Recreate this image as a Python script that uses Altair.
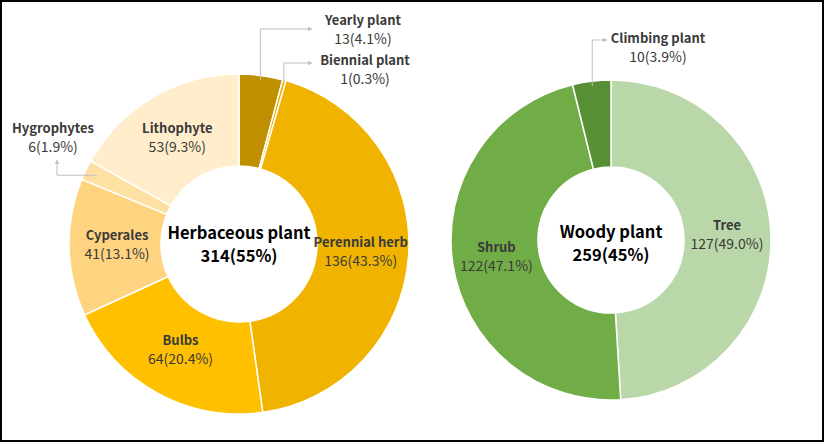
import math
import altair as alt
import pandas as pd

# ---------------- data ----------------
herb_names = ["Yearly plant", "Biennial plant", "Perennial herb", "Bulbs",
              "Cyperales", "Hygrophytes", "Lithophyte"]
herb_values = [13, 1, 136, 64, 41, 6, 53]
herb_pcts = ["4.1%", "0.3%", "43.3%", "20.4%", "13.1%", "1.9%", "9.3%"]
herb_outside = ["Yearly plant", "Biennial plant", "Hygrophytes"]
herb_center = ["Herbaceous plant", "314(55%)"]

woody_names = ["Tree", "Shrub", "Climbing plant"]
woody_values = [127, 122, 10]
woody_pcts = ["49.0%", "47.1%", "3.9%"]
woody_outside = ["Climbing plant"]
woody_center = ["Woody plant", "259(45%)"]

# ---------------- styles / layout ----------------
herb_colors = ["#BF8F00", "#E9AD00", "#F0B400", "#FFC000", "#FFD480", "#FFE0A3", "#FFEDCC"]
woody_colors = ["#B9D7A8", "#70AD47", "#578F35"]

W, H = 827, 446
FONT = "Noto Sans CJK KR"
TXT = "#3A3A3A"
LINE = "#BFBFBF"

LEFT = dict(cx=239, cy=244, r_out=170, r_in=78, r_lab=122)
RIGHT = dict(cx=611, cy=240, r_out=160, r_in=73, r_lab=116)

# outside callouts: leader start radius, route, label position
CALLOUTS = {
    "Yearly plant":   dict(side=LEFT, r=165, route="up", level=29, end=312, lx=363, ly=21),
    "Biennial plant": dict(side=LEFT, r=168, route="up", level=63, end=312, lx=365, ly=61),
    "Hygrophytes":    dict(side=LEFT, r=158, route="left", level=57, end=160, lx=53, ly=129),
    "Climbing plant": dict(side=RIGHT, r=155, route="up", level=40, end=607, lx=658, ly=39),
}


def build(names, values, pcts, outside):
    total = sum(values)
    rows = []
    cum = 0
    for i, (n, v, p) in enumerate(zip(names, values, pcts)):
        mid = (cum + v / 2) / total * 2 * math.pi
        cum += v
        rows.append(dict(idx=i, name=n, value=v, vtxt=f"{v}({p})",
                         name_in="" if n in outside else n,
                         val_in="" if n in outside else f"{v}({p})",
                         mid=mid))
    return pd.DataFrame(rows)


herb_df = build(herb_names, herb_values, herb_pcts, herb_outside)
woody_df = build(woody_names, woody_values, woody_pcts, woody_outside)

xs = alt.Scale(domain=[0, W], nice=False, zero=False)
ys = alt.Scale(domain=[0, H], nice=False, zero=False, reverse=True)


def donut(df, names, colors, side):
    base = alt.Chart(df)
    theta = alt.Theta("value:Q", stack=True)
    order = alt.Order("idx:Q")
    arc = base.mark_arc(radius=side["r_out"], radius2=side["r_in"],
                        stroke="white", strokeWidth=1.5).encode(
        theta=theta, order=order,
        color=alt.Color("name:N", scale=alt.Scale(domain=names, range=colors), legend=None),
        x=alt.value(side["cx"]), y=alt.value(side["cy"]),
    )
    t1 = base.mark_text(radius=side["r_lab"], dy=-10, font=FONT, fontSize=13,
                        fontWeight="bold", color=TXT).encode(
        theta=theta, order=order, text="name_in:N",
        x=alt.value(side["cx"]), y=alt.value(side["cy"]))
    t2 = base.mark_text(radius=side["r_lab"], dy=9, font=FONT, fontSize=14,
                        color=TXT).encode(
        theta=theta, order=order, text="val_in:N",
        x=alt.value(side["cx"]), y=alt.value(side["cy"]))
    return alt.layer(arc, t1, t2)


left = donut(herb_df, herb_names, herb_colors, LEFT)
right = donut(woody_df, woody_names, woody_colors, RIGHT)

# leader lines, arrows and outside labels
all_df = pd.concat([herb_df, woody_df], ignore_index=True)
lead_rows, arrow_rows, lab_rows = [], [], []
for name, c in CALLOUTS.items():
    rec = all_df[all_df["name"] == name].iloc[0]
    s = c["side"]
    x0 = s["cx"] + c["r"] * math.sin(rec["mid"])
    y0 = s["cy"] - c["r"] * math.cos(rec["mid"])
    if c["route"] == "up":
        pts = [(x0, y0), (x0, c["level"]), (c["end"], c["level"])]
        arrow_rows.append(dict(x=c["end"] - 2, y=c["level"], shape="triangle-right"))
    else:
        pts = [(x0, y0), (c["level"], y0), (c["level"], c["end"])]
        arrow_rows.append(dict(x=c["level"], y=c["end"] + 2, shape="triangle-up"))
    for k, (px, py) in enumerate(pts):
        lead_rows.append(dict(leader=name, seq=k, x=px, y=py))
    lab_rows.append(dict(x=c["lx"], y=c["ly"], t=name, kind="name"))
    lab_rows.append(dict(x=c["lx"], y=c["ly"] + 19, t=rec["vtxt"], kind="val"))

lead_df = pd.DataFrame(lead_rows)
arrow_df = pd.DataFrame(arrow_rows)
lab_df = pd.DataFrame(lab_rows)

leaders = alt.Chart(lead_df).mark_line(color=LINE, strokeWidth=1).encode(
    x=alt.X("x:Q", scale=xs, axis=None),
    y=alt.Y("y:Q", scale=ys, axis=None),
    detail="leader:N", order="seq:Q")

arrows = alt.Chart(arrow_df).mark_point(filled=True, color=LINE, size=22, opacity=1).encode(
    x=alt.X("x:Q", scale=xs, axis=None),
    y=alt.Y("y:Q", scale=ys, axis=None),
    shape=alt.Shape("shape:N", scale=None))

out_names = alt.Chart(lab_df).transform_filter("datum.kind == 'name'").mark_text(
    font=FONT, fontSize=13, fontWeight="bold", color=TXT).encode(
    x=alt.X("x:Q", scale=xs, axis=None), y=alt.Y("y:Q", scale=ys, axis=None), text="t:N")
out_vals = alt.Chart(lab_df).transform_filter("datum.kind == 'val'").mark_text(
    font=FONT, fontSize=14, color=TXT).encode(
    x=alt.X("x:Q", scale=xs, axis=None), y=alt.Y("y:Q", scale=ys, axis=None), text="t:N")

center_df = pd.DataFrame([
    dict(x=LEFT["cx"], y=LEFT["cy"] - 10, t=herb_center[0]),
    dict(x=LEFT["cx"], y=LEFT["cy"] + 13, t=herb_center[1]),
    dict(x=RIGHT["cx"], y=RIGHT["cy"] - 7, t=woody_center[0]),
    dict(x=RIGHT["cx"], y=RIGHT["cy"] + 16, t=woody_center[1]),
])
centers = alt.Chart(center_df).mark_text(font=FONT, fontSize=16.5, fontWeight="bold",
                                         color="#000000").encode(
    x=alt.X("x:Q", scale=xs, axis=None), y=alt.Y("y:Q", scale=ys, axis=None), text="t:N")

frame = alt.Chart(pd.DataFrame({"k": [0]})).mark_rect(
    fill="white", fillOpacity=0, stroke="#000000", strokeWidth=2).encode(
    x=alt.value(1), x2=alt.value(823), y=alt.value(1), y2=alt.value(441))

chart = alt.layer(left, right, leaders, arrows, out_names, out_vals, centers, frame).resolve_scale(
    theta="independent", color="independent"
).properties(
    width=W, height=H, padding=0, autosize=alt.AutoSizeParams(type="none"),
    background="white"
).configure_view(stroke=None)

chart.save("out.html", embed_options={"renderer": "svg", "actions": False})
